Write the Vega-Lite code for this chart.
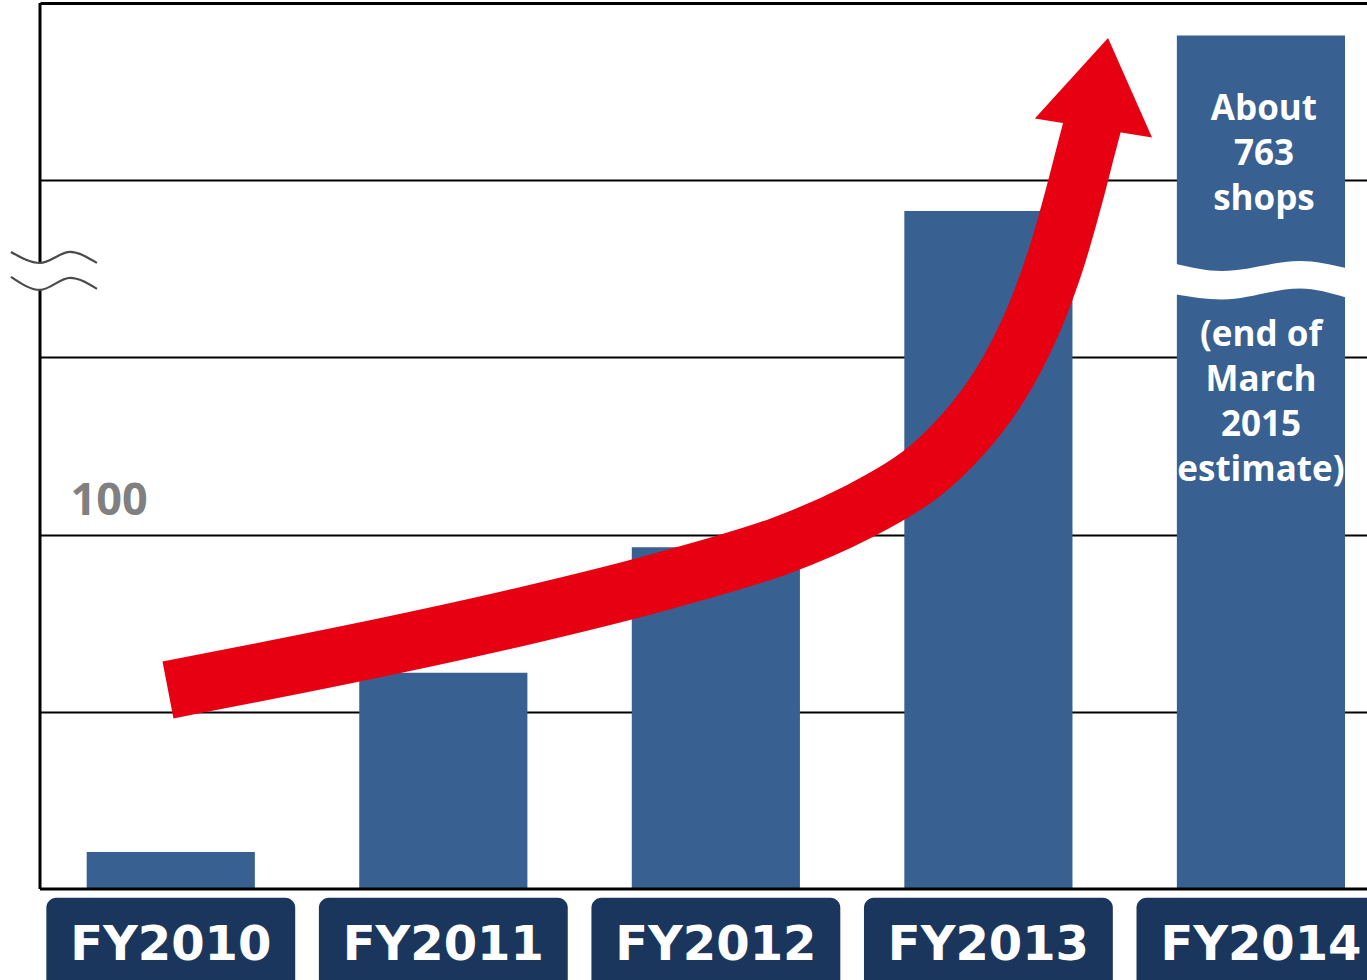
{
  "$schema": "https://vega.github.io/schema/vega-lite/v6.json",
  "width": 1327,
  "height": 977,
  "autosize": {"type": "none"},
  "padding": {"left": 40, "top": 3, "right": 0, "bottom": 0},
  "background": "white",
  "config": {"view": {"stroke": null}},
  "datasets": {
    "bars": [
      {"year": "FY2010", "shops": 10, "drawn": 10.4},
      {"year": "FY2011", "shops": 61, "drawn": 61},
      {"year": "FY2012", "shops": 96, "drawn": 96.4},
      {"year": "FY2013", "shops": 191, "drawn": 191.3},
      {"year": "FY2014", "shops": 763, "drawn": 240.8, "note_top": "About\n763\nshops", "note_bottom": "(end of\nMarch\n2015\nestimate)"}
    ],
    "arrow": [
      {"pos": -0.0110, "level": 56.16},
      {"pos": 0.6936, "level": 66.88},
      {"pos": 1.2807, "level": 76.76},
      {"pos": 1.7945, "level": 86.63},
      {"pos": 2.2349, "level": 96.79},
      {"pos": 2.5284, "level": 106.67},
      {"pos": 2.7486, "level": 116.83},
      {"pos": 2.9138, "level": 128.96},
      {"pos": 3.0422, "level": 142.22},
      {"pos": 3.1523, "level": 158.31},
      {"pos": 3.2440, "level": 176.93},
      {"pos": 3.3101, "level": 194.43},
      {"pos": 3.3578, "level": 208.54},
      {"pos": 3.3945, "level": 219.26}
    ],
    "squiggle": [
      {"pos": -0.5872, "upper": 179.75, "lower": 172.70},
      {"pos": -0.4807, "upper": 176.65, "lower": 169.03},
      {"pos": -0.3706, "upper": 179.75, "lower": 172.42},
      {"pos": -0.2716, "upper": 176.65, "lower": 169.32}
    ],
    "break": [
      {"pos": 3.6881, "upper": 176.37, "lower": 167.74},
      {"pos": 3.8569, "upper": 174.39, "lower": 166.33},
      {"pos": 4.1431, "upper": 177.21, "lower": 169.43},
      {"pos": 4.3119, "upper": 175.24, "lower": 166.89}
    ]
  },
  "layer": [
    {
      "data": {"name": "bars"},
      "mark": {"type": "bar", "fill": "#386192"},
      "encoding": {
        "x": {"field": "year", "type": "nominal", "axis": null,
              "scale": {"type": "band", "domain": ["FY2010", "FY2011", "FY2012", "FY2013", "FY2014"], "paddingInner": 0.383, "paddingOuter": 0.126, "align": 0.68}},
        "y": {"field": "drawn", "type": "quantitative",
              "scale": {"domain": [-25.7, 250], "nice": false, "zero": false},
              "axis": {
                "title": null,
                "values": [50, 100, 150, 200, 250],
                "grid": true,
                "gridColor": "#000000",
                "gridWidth": {"condition": {"test": "datum.value === 250", "value": 3}, "value": 2},
                "domain": false,
                "ticks": false,
                "tickSize": 0,
                "labelExpr": "datum.value === 100 ? '100' : ''",
                "labelAlign": "left",
                "labelPadding": -30,
                "labelBaseline": "alphabetic",
                "labelOffset": -20,
                "labelFont": "Open Sans",
                "labelFontWeight": "bold",
                "labelFontSize": 45,
                "labelColor": "#808080",
                "labelOverlap": false,
                "labelFlush": false,
                "zindex": 0
              }}
      }
    },
    {
      "data": {"name": "break"},
      "mark": {"type": "area", "interpolate": "monotone", "fill": "white", "orient": "vertical"},
      "encoding": {
        "x": {"field": "pos", "type": "quantitative", "axis": null, "scale": {"domain": [-0.4807, 4.389], "nice": false, "zero": false}},
        "y": {"field": "upper", "type": "quantitative", "scale": {"domain": [-25.7, 250], "nice": false, "zero": false}},
        "y2": {"field": "lower"}
      }
    },
    {
      "data": {"name": "bars"},
      "transform": [{"filter": "datum.year === 'FY2014'"}],
      "mark": {"type": "text", "lineBreak": "\n", "lineHeight": 45, "font": "Open Sans", "fontWeight": "bold", "fontSize": 35, "fill": "white", "baseline": "middle", "align": "center", "dx": 3},
      "encoding": {
        "x": {"field": "year", "type": "nominal", "axis": null,
              "scale": {"type": "band", "domain": ["FY2010", "FY2011", "FY2012", "FY2013", "FY2014"], "paddingInner": 0.383, "paddingOuter": 0.126, "align": 0.68}},
        "y": {"datum": 220.1, "type": "quantitative", "scale": {"domain": [-25.7, 250], "nice": false, "zero": false}},
        "text": {"field": "note_top"}
      }
    },
    {
      "data": {"name": "bars"},
      "transform": [{"filter": "datum.year === 'FY2014'"}],
      "mark": {"type": "text", "lineBreak": "\n", "lineHeight": 45, "font": "Open Sans", "fontWeight": "bold", "fontSize": 35, "fill": "white", "baseline": "middle", "align": "center"},
      "encoding": {
        "x": {"field": "year", "type": "nominal", "axis": null,
              "scale": {"type": "band", "domain": ["FY2010", "FY2011", "FY2012", "FY2013", "FY2014"], "paddingInner": 0.383, "paddingOuter": 0.126, "align": 0.68}},
        "y": {"datum": 156.3, "type": "quantitative", "scale": {"domain": [-25.7, 250], "nice": false, "zero": false}},
        "text": {"field": "note_bottom"}
      }
    },
    {
      "data": {"name": "bars"},
      "mark": {"type": "bar", "width": {"band": 1.48}, "fill": "#1b365d", "cornerRadiusTopLeft": 10, "cornerRadiusTopRight": 10},
      "encoding": {
        "x": {"field": "year", "type": "nominal", "axis": null,
              "scale": {"type": "band", "domain": ["FY2010", "FY2011", "FY2012", "FY2013", "FY2014"], "paddingInner": 0.383, "paddingOuter": 0.126, "align": 0.68}},
        "y": {"datum": -2.5, "type": "quantitative", "scale": {"domain": [-25.7, 250], "nice": false, "zero": false}},
        "y2": {"datum": -25.7}
      }
    },
    {
      "data": {"name": "bars"},
      "mark": {"type": "text", "font": "DejaVu Sans", "fontWeight": "bold", "fontSize": 48, "fill": "white", "baseline": "middle", "align": "center"},
      "encoding": {
        "x": {"field": "year", "type": "nominal", "axis": null,
              "scale": {"type": "band", "domain": ["FY2010", "FY2011", "FY2012", "FY2013", "FY2014"], "paddingInner": 0.383, "paddingOuter": 0.126, "align": 0.68}},
        "y": {"datum": -16.2, "type": "quantitative", "scale": {"domain": [-25.7, 250], "nice": false, "zero": false}},
        "text": {"field": "year"}
      }
    },
    {
      "data": {"values": [{}]},
      "mark": {"type": "rule", "color": "#000000", "strokeWidth": 3},
      "encoding": {
        "y": {"datum": 0, "type": "quantitative", "scale": {"domain": [-25.7, 250], "nice": false, "zero": false}}
      }
    },
    {
      "data": {"values": [{}]},
      "mark": {"type": "rule", "color": "#000000", "strokeWidth": 3},
      "encoding": {
        "x": {"datum": -0.4807, "type": "quantitative", "axis": null, "scale": {"domain": [-0.4807, 4.389], "nice": false, "zero": false}},
        "y": {"datum": 0, "type": "quantitative", "scale": {"domain": [-25.7, 250], "nice": false, "zero": false}},
        "y2": {"datum": 250}
      }
    },
    {
      "data": {"name": "squiggle"},
      "mark": {"type": "area", "interpolate": "monotone", "fill": "white", "orient": "vertical"},
      "encoding": {
        "x": {"field": "pos", "type": "quantitative", "axis": null, "scale": {"domain": [-0.4807, 4.389], "nice": false, "zero": false}},
        "y": {"field": "upper", "type": "quantitative", "scale": {"domain": [-25.7, 250], "nice": false, "zero": false}},
        "y2": {"field": "lower"}
      }
    },
    {
      "data": {"name": "squiggle"},
      "mark": {"type": "line", "interpolate": "monotone", "color": "#4a4a4a", "strokeWidth": 2.2},
      "encoding": {
        "x": {"field": "pos", "type": "quantitative", "axis": null, "scale": {"domain": [-0.4807, 4.389], "nice": false, "zero": false}},
        "y": {"field": "upper", "type": "quantitative", "scale": {"domain": [-25.7, 250], "nice": false, "zero": false}}
      }
    },
    {
      "data": {"name": "squiggle"},
      "mark": {"type": "line", "interpolate": "monotone", "color": "#4a4a4a", "strokeWidth": 2.2},
      "encoding": {
        "x": {"field": "pos", "type": "quantitative", "axis": null, "scale": {"domain": [-0.4807, 4.389], "nice": false, "zero": false}},
        "y": {"field": "lower", "type": "quantitative", "scale": {"domain": [-25.7, 250], "nice": false, "zero": false}}
      }
    },
    {
      "data": {"name": "arrow"},
      "mark": {"type": "line", "interpolate": "catmull-rom", "color": "#e60012", "strokeWidth": 58, "strokeCap": "butt"},
      "encoding": {
        "x": {"field": "pos", "type": "quantitative", "axis": null, "scale": {"domain": [-0.4807, 4.389], "nice": false, "zero": false}},
        "y": {"field": "level", "type": "quantitative", "scale": {"domain": [-25.7, 250], "nice": false, "zero": false}}
      }
    },
    {
      "data": {"values": [{}]},
      "mark": {"type": "point", "shape": "M0,-0.768L1,0.768L-1,0.768Z", "size": 14090, "angle": 9.2, "filled": true, "fill": "#e60012", "opacity": 1, "strokeWidth": 0},
      "encoding": {
        "x": {"datum": 3.4119, "type": "quantitative", "axis": null, "scale": {"domain": [-0.4807, 4.389], "nice": false, "zero": false}},
        "y": {"datum": 227.4, "type": "quantitative", "scale": {"domain": [-25.7, 250], "nice": false, "zero": false}}
      }
    }
  ],
  "resolve": {"scale": {"x": "independent"}}
}
